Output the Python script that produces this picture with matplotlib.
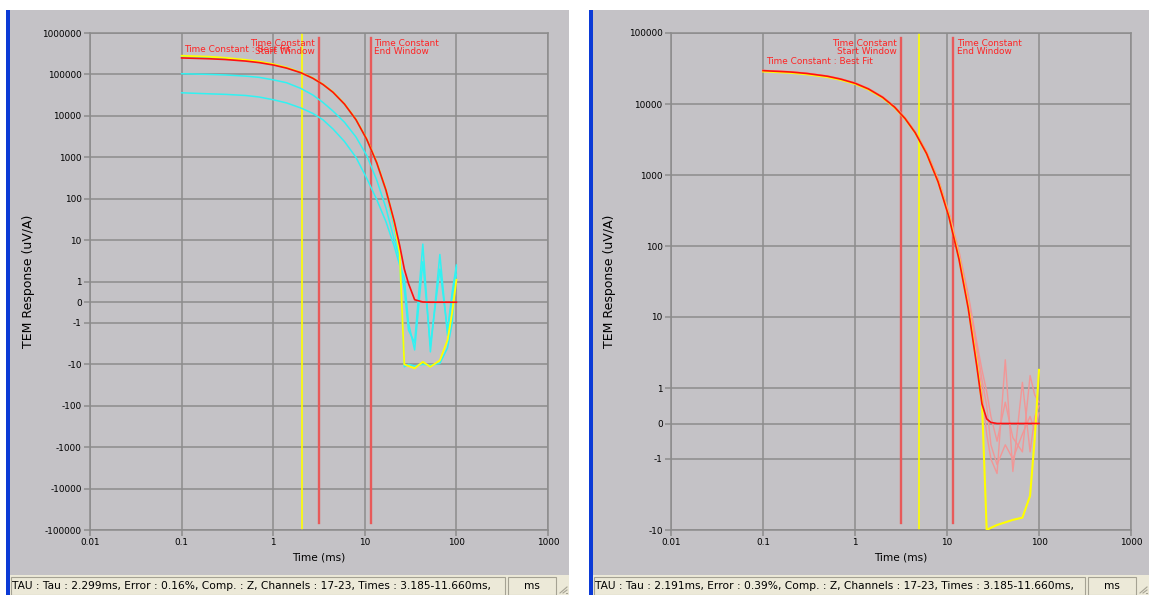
import matplotlib
matplotlib.use('Agg')
import matplotlib.pyplot as plt
from matplotlib.patches import Rectangle
from matplotlib.lines import Line2D
from matplotlib.ticker import NullLocator

W, H = 1149, 595

# ---- data ----
x_ticks = [0.01, 0.1, 1, 10, 100, 1000]
x_labels = ['0.01', '0.1', '1', '10', '100', '1000']
y_ticks_left = [1000000, 100000, 10000, 1000, 100, 10, 1, 0, -1, -10, -100, -1000, -10000, -100000]
y_ticks_right = [100000, 10000, 1000, 100, 10, 1, 0, -1, -10]

# left panel
t_left = [0.1, 0.2, 0.3, 0.5, 0.7, 1.0, 1.4, 2.0, 2.7, 3.5, 4.5, 6.0, 8.0, 10.5, 13.5, 17.0,
          21.0, 24.0, 27.0, 30.0, 35.0, 43.0, 52.0, 66.0, 80.0, 90.0, 100.0]
fit_left = [250000, 239000, 229000, 210000, 193000, 169000, 142000, 110000, 81000, 57000, 37000,
            19200, 8100, 2700, 735, 162, 28, 7.5, 2.0, 0.9, 0.12, 0.01, 0, 0, 0, 0, 0]
data_left = [282000, 268000, 252000, 225000, 205000, 177000, 147000, 112000, 82000, 57500, 37500,
             19400, 8200, 2750, 750, 165, 26, 5, -10, -11, -12.5, -8.7, -11.5, -8, -2.6, -0.5, 1.1]
cyan_top = [270000, 256000, 245000, 220000, 200000, 174000, 145000, 111000, 81500, 57000, 37000,
            19000, 8000, 2650, 700, 150, 20, 4, -11.5, -10, -11, -10, -10.5, -9.5, -4, -1, 2.2]
cyan_mid = [104000, 100000, 97000, 91000, 85000, 74000, 63000, 46000, 32000, 21000, 13000,
            7000, 3100, 1100, 280, 60, 10, 3.5, 0.6, -1.5, -3, 8, -5, 4.5, -2, 0.3, 1.5]
cyan_low = [36000, 34000, 33000, 31000, 28500, 24500, 20500, 15500, 11500, 8000, 4800,
            2400, 1000, 310, 95, 28, 7, 2.5, 1.2, -1, -4.5, 3, -3.5, 2, -1.5, 0.5, 2.5]
tau_left = 2.06
window_left = [3.185, 11.66]
status_left = 'TAU : Tau : 2.299ms, Error : 0.16%, Comp. : Z, Channels : 17-23, Times : 3.185-11.660ms,'

# right panel
t_right = [0.1, 0.2, 0.3, 0.5, 0.7, 1.0, 1.4, 2.0, 2.7, 3.5, 4.5, 6.0, 8.0, 10.5, 13.5, 17.0,
           21.0, 24.0, 27.0, 30.0, 35.0, 43.0, 52.0, 66.0, 80.0, 90.0, 100.0]
fit_right = [29500, 28200, 26900, 24600, 22400, 19600, 16300, 12400, 9000, 6240, 3960,
             2000, 800, 255, 65, 13.3, 2.1, 0.55, 0.13, 0.03, 0, 0, 0, 0, 0, 0, 0]
data_right = [28800, 27500, 26200, 24000, 21900, 19200, 16000, 12200, 8900, 6200, 3950,
              2000, 810, 262, 68, 14, 2.3, 0.6, -10, -9.3, -8.5, -7.8, -7.2, -6.7, -3.3, -0.4, 1.8]
pink_a = [29600, 28300, 27000, 24700, 22500, 19700, 16400, 12500, 9100, 6350, 4050,
          2080, 850, 280, 75, 17, 3.2, 0.9, -0.3, -1.0, -1.6, 2.5, -1.5, 1.2, -0.8, 0.2, 0.5]
pink_b = [29700, 28400, 27100, 24800, 22600, 19800, 16500, 12600, 9200, 6400, 4100,
          2100, 870, 290, 80, 19, 4, 1.3, 0.5, -0.6, -1.2, -0.6, -1.0, -0.3, 0.2, -0.2, 0.3]
pink_c = [29800, 28500, 27200, 24900, 22700, 19900, 16600, 12700, 9300, 6450, 4150,
          2150, 900, 300, 85, 21, 4.5, 1.8, 0.9, 0.2, -0.5, 0.6, -0.4, -0.8, 1.5, 0.8, 0.6]
tau_right = 4.95
window_right = [3.185, 11.66]
status_right = 'TAU : Tau : 2.191ms, Error : 0.39%, Comp. : Z, Channels : 17-23, Times : 3.185-11.660ms,'

GRAY = '#c4c2c6'
GRID = '#8c8c8c'
RED = '#ff1010'
WINRED = '#e85a5a'
YEL = '#ffff00'
CYAN = '#30f2f2'
PINK = '#f29696'
TXTRED = '#ff2424'
BAR = '#ece9d8'

fig = plt.figure(figsize=(W / 100, H / 100), dpi=100)
fig.patch.set_facecolor('white')


def box(x0, y0, x1, y1, **kw):
    kw.setdefault('zorder', -5)
    fig.patches.append(Rectangle((x0 / W, 1 - y1 / H), (x1 - x0) / W, (y1 - y0) / H,
                                 transform=fig.transFigure, **kw))


def frame(x0, x1):
    # gray window, blue border and status bar
    box(x0, 10, x1, 575, color=GRAY, lw=0)
    box(x0 - 4, 10, x0, 595, color='#0b3ad6', lw=0)
    box(x0, 575, x1, 595, color=BAR, lw=0)


def status(x0, x1, text):
    box(x0 + 1, 577, x1 - 64, 594.5, fill=False, edgecolor='#a5a293', lw=0.8, zorder=-4)
    box(x1 - 61, 577, x1 - 13, 594.5, fill=False, edgecolor='#a5a293', lw=0.8, zorder=-4)
    fig.text((x0 + 2) / W, 1 - 586 / H, text, fontsize=7.7, va='center', ha='left')
    fig.text((x1 - 37) / W, 1 - 586 / H, 'ms', fontsize=7.7, va='center', ha='center')
    for k in range(3):
        a = x1 - 3 - 3 * k
        fig.lines.append(Line2D([a / W, (x1 - 2) / W], [1 - 593 / H, 1 - (594 - (x1 - 2 - a)) / H],
                                transform=fig.transFigure, color='#a5a293', lw=0.8))


frame(10, 569)
frame(593, 1149)
status(10, 569, status_left)
status(593, 1149, status_right)


def setup(ax, yticks, ylim):
    ax.set_facecolor(GRAY)
    ax.set_xscale('log')
    ax.set_yscale('symlog', linthresh=1, linscale=0.45)
    ax.set_xlim(0.01, 1000)
    ax.set_ylim(*ylim)
    ax.set_xticks(x_ticks)
    ax.set_xticklabels(x_labels)
    ax.set_yticks(yticks)
    ax.set_yticklabels([str(v) for v in yticks])
    ax.xaxis.set_minor_locator(NullLocator())
    ax.yaxis.set_minor_locator(NullLocator())
    ax.grid(True, color=GRID, lw=1.1)
    ax.set_axisbelow(True)
    for s in ax.spines.values():
        s.set_color(GRID)
        s.set_linewidth(1.1)
    ax.tick_params(length=4, width=1.1, color=GRID, labelsize=6.4, pad=2)
    ax.set_xlabel('Time (ms)', fontsize=7.6)
    ax.set_ylabel('TEM Response (uV/A)', fontsize=9.0)
    ax.yaxis.set_label_coords(-0.12, 0.5)
    ax.xaxis.set_label_coords(0.5, -0.046)


def markers(ax, tau, window, t, fit):
    ax.axvline(tau, color=YEL, lw=1.2, zorder=2)
    for w in window:
        ax.axvline(w, ymin=0.014, ymax=0.99, color=WINRED, lw=1.7, zorder=2)
    kw = dict(fontsize=6.4, color=TXTRED, linespacing=0.85, textcoords='offset points')
    ax.annotate('Time Constant\nStart Window', xy=(window[0], 0.987),
                xycoords=('data', 'axes fraction'), xytext=(-3, 0),
                ha='right', va='top', multialignment='right', **kw)
    ax.annotate('Time Constant\nEnd Window', xy=(window[1], 0.987),
                xycoords=('data', 'axes fraction'), xytext=(2.5, 0),
                ha='left', va='top', multialignment='left', **kw)
    ax.annotate('Time Constant : Best Fit', xy=(t[0], fit[0]), xytext=(2, 3),
                ha='left', va='bottom', **kw)


ax1 = fig.add_axes([90 / W, 1 - 530 / H, 458 / W, 497 / H])
setup(ax1, y_ticks_left, (-100000, 1000000))
markers(ax1, tau_left, window_left, t_left, fit_left)
ax1.plot(t_left, cyan_low, color=CYAN, lw=1.1, zorder=3)
ax1.plot(t_left, cyan_mid, color=CYAN, lw=1.1, zorder=3)
ax1.plot(t_left, cyan_top, color=CYAN, lw=1.1, zorder=3)
ax1.plot(t_left, data_left, color=YEL, lw=1.3, zorder=3)
ax1.plot(t_left, fit_left, color=RED, lw=1.2, zorder=4)

ax2 = fig.add_axes([671 / W, 1 - 530 / H, 460 / W, 497 / H])
setup(ax2, y_ticks_right, (-10, 100000))
markers(ax2, tau_right, window_right, t_right, fit_right)
for p in (pink_a, pink_b, pink_c):
    ax2.plot(t_right, p, color=PINK, lw=1.0, zorder=3)
ax2.plot(t_right, data_right, color=YEL, lw=1.5, zorder=3)
ax2.plot(t_right, fit_right, color=RED, lw=1.2, zorder=4)

fig.savefig('out.png', dpi=100, facecolor=fig.get_facecolor())
